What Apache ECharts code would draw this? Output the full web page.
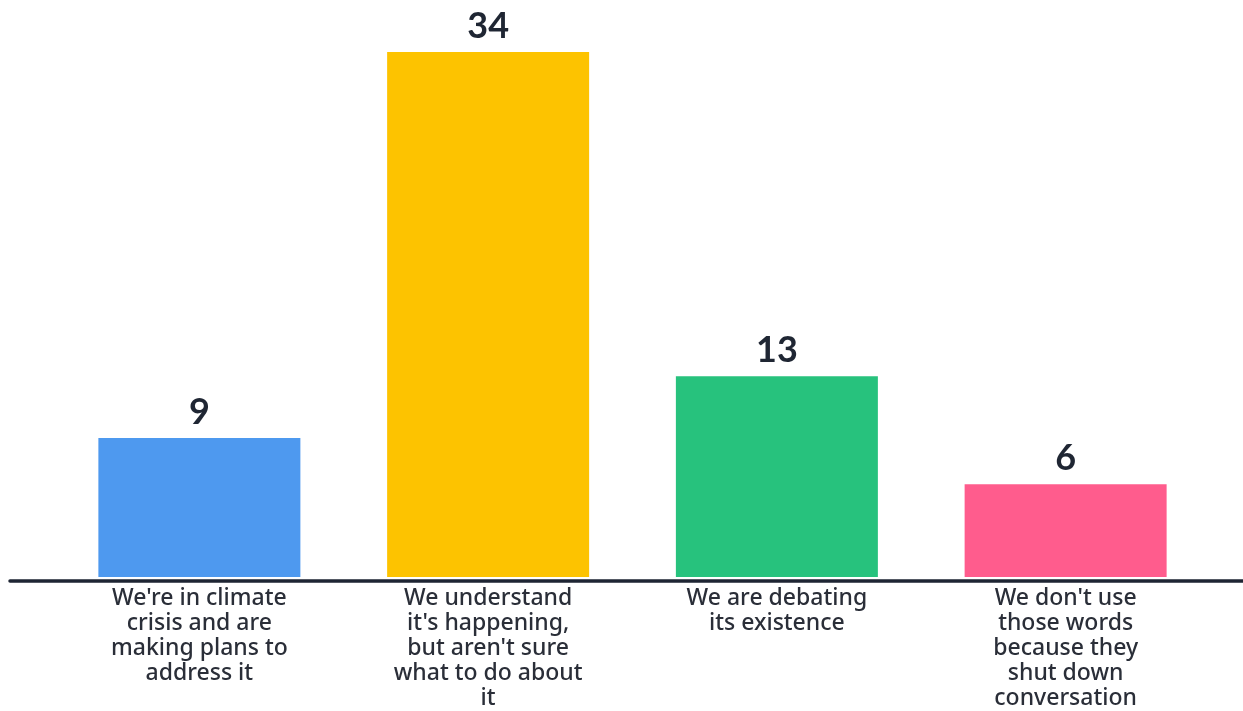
<!DOCTYPE html>
<html>
<head>
<meta charset="utf-8">
<script src="https://cdn.jsdelivr.net/npm/echarts@6/dist/echarts.min.js"></script>
<style>
  html, body { margin: 0; padding: 0; background: #fff; }
  #chart { width: 1243px; height: 711px; }
</style>
</head>
<body>
<div id="chart"></div>
<script>
var categories = [
  "We're in climate\ncrisis and are\nmaking plans to\naddress it",
  "We understand\nit's happening,\nbut aren't sure\nwhat to do about\nit",
  "We are debating\nits existence",
  "We don't use\nthose words\nbecause they\nshut down\nconversation"
];
var values = [9, 34, 13, 6];
var colors = ['#4e99ef', '#fdc300', '#27c27d', '#ff5c8d'];

var myChart = echarts.init(document.getElementById('chart'));
myChart.setOption({
  animation: false,
  grid: [
    { left: 55, right: 33, top: 52, bottom: 130 },
    { left: 10, right: 0, top: 52, bottom: 130 }
  ],
  xAxis: [
    {
      type: 'category',
      gridIndex: 0,
      data: categories,
      axisLine: { show: false },
      axisTick: { show: false },
      axisLabel: {
        interval: 0,
        margin: 9,
        fontFamily: 'Noto Sans',
        fontWeight: 500,
        fontSize: 23,
        lineHeight: 25,
        color: '#2a2e38',
        align: 'center'
      }
    },
    {
      type: 'category',
      gridIndex: 1,
      data: [''],
      axisLine: { show: true, lineStyle: { color: '#1e2533', width: 3.5 } },
      axisTick: { show: false },
      axisLabel: { show: false }
    }
  ],
  yAxis: [
    { type: 'value', gridIndex: 0, min: 0, max: 34, show: false },
    { type: 'value', gridIndex: 1, min: 0, max: 34, show: false }
  ],
  series: [
    {
      type: 'bar',
      xAxisIndex: 0,
      yAxisIndex: 0,
      barWidth: 202,
      data: values.map(function (v, i) {
        return { value: v, itemStyle: { color: colors[i] } };
      }),
      label: {
        show: true,
        position: 'top',
        distance: 8,
        fontFamily: 'Lato',
        fontWeight: 'bold',
        fontSize: 36,
        color: '#1f2633'
      }
    }
  ]
});
</script>
</body>
</html>
